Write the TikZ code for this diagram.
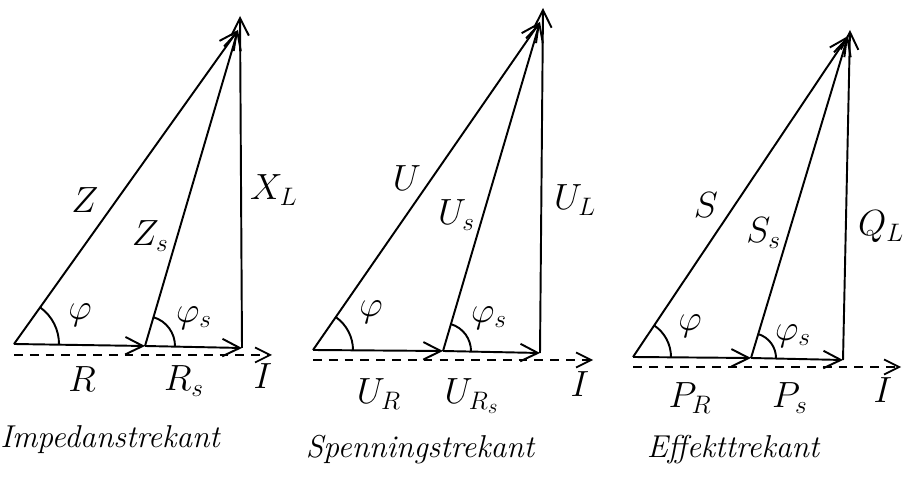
\documentclass[tikz,border=0pt]{standalone}
\usetikzlibrary{arrows.meta,angles}
\tikzset{
  vec/.style={line width=1.1pt,-{Straight Barb[length=3.5mm,width=3.5mm]}},
  refline/.style={line width=1pt,dash pattern=on 5pt off 4pt,-{Straight Barb[length=3mm,width=3mm]}},
  lbl/.style={font=\huge},
  title/.style={font=\fontsize{18}{21}\selectfont\itshape},
  ang/.style={draw,line width=1.1pt}
}
\begin{document}
\begin{tikzpicture}[x=0.02cm,y=0.02cm]
    \useasboundingbox(0,0)rectangle(911,482);

    % impedanstrekant
    \coordinate(O1)at(14,138);
    \coordinate(M1)at(145,136);
    \coordinate(C1)at(242,134);
    \coordinate(A1)at(238,452);
    \coordinate(T1)at(240,466);
    \coordinate(D1)at(14,127);
    \coordinate(E1)at(272,127);
    \draw[vec](O1)--(M1);
    \draw[vec](M1)--(C1);
    \draw[vec](C1)--(T1);
    \draw[vec](O1)--(A1);
    \draw[vec](M1)--(A1);
    \draw[refline](D1)--(E1);
    \pic[ang,angle radius=0.9cm]{angle=M1--O1--A1};
    \pic[ang,angle radius=0.6cm]{angle=C1--M1--A1};
    \node[lbl](Z)at(85,282){$Z$};
    \node[lbl,anchor=east](Zs)at(175,246){$Z_s$};
    \node[lbl,anchor=west](XL)at(244,292){$X_L$};
    \node[lbl](phi1)at(80,167){$\varphi$};
    \node[lbl](phis1)at(194,164){$\varphi_s$};
    \node[lbl](R)at(82,103){$R$};
    \node[lbl](Rs)at(184,101){$R_s$};
    \node[lbl](I1)at(263,106){$I$};
    \node[title](imp)at(110,42){Impedanstrekant};

    % spenningstrekant
    \coordinate(O2)at(313,132);
    \coordinate(M2)at(443,131);
    \coordinate(C2)at(540,129);
    \coordinate(A2)at(540,460);
    \coordinate(T2)at(543,474);
    \coordinate(D2)at(313,122);
    \coordinate(E2)at(593,122);
    \draw[vec](O2)--(M2);
    \draw[vec](M2)--(C2);
    \draw[vec](C2)--(T2);
    \draw[vec](O2)--(A2);
    \draw[vec](M2)--(A2);
    \draw[refline](D2)--(E2);
    \pic[ang,angle radius=0.8cm]{angle=M2--O2--A2};
    \pic[ang,angle radius=0.56cm]{angle=C2--M2--A2};
    \node[lbl,anchor=east](U)at(427,304){$U$};
    \node[lbl,anchor=east](Us)at(481,267){$U_s$};
    \node[lbl,anchor=west](UL)at(548,282){$U_L$};
    \node[lbl](phi2)at(371,170){$\varphi$};
    \node[lbl](phis2)at(489,164){$\varphi_s$};
    \node[lbl](UR)at(379,88){$U_R$};
    \node[lbl](URs)at(472,86){$U_{R_s}$};
    \node[lbl](I2)at(580,98){$I$};
    \node[title](spe)at(420,32){Spenningstrekant};

    % effekttrekant
    \coordinate(O3)at(633,125);
    \coordinate(M3)at(751,124);
    \coordinate(C3)at(843,122);
    \coordinate(A3)at(848,446);
    \coordinate(T3)at(850,452);
    \coordinate(D3)at(633,115);
    \coordinate(E3)at(901,115);
    \draw[vec](O3)--(M3);
    \draw[vec](M3)--(C3);
    \draw[vec](C3)--(T3);
    \draw[vec](O3)--(A3);
    \draw[vec](M3)--(A3);
    \draw[refline](D3)--(E3);
    \pic[ang,angle radius=0.76cm]{angle=M3--O3--A3};
    \pic[ang,angle radius=0.5cm]{angle=C3--M3--A3};
    \node[lbl](S)at(706,277){$S$};
    \node[lbl,anchor=east](Ss)at(787,249){$S_s$};
    \node[lbl,anchor=west](QL)at(852,255){$Q_L$};
    \node[lbl](phi3)at(690,156){$\varphi$};
    \node[lbl](phis3)at(793,146){$\varphi_s$};
    \node[lbl](PR)at(690,84){$P_R$};
    \node[lbl](Ps)at(790,84){$P_s$};
    \node[lbl](I3)at(883,92){$I$};
    \node[title](eff)at(733,32){Effekttrekant};
\end{tikzpicture}
\end{document}
